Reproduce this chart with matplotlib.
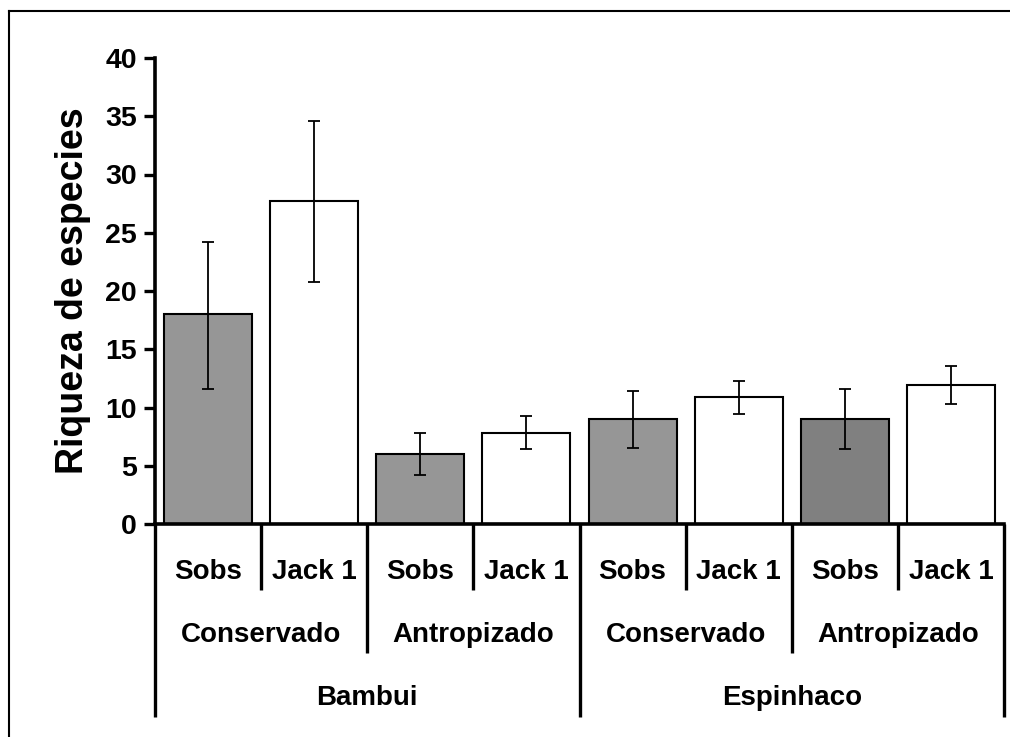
import matplotlib
matplotlib.use("Agg")
import matplotlib.pyplot as plt
from matplotlib.lines import Line2D
import numpy as np

# data
regions = ["Bambui", "Espinhaco"]
sites = ["Conservado", "Antropizado", "Conservado", "Antropizado"]
estimators = ["Sobs", "Jack 1", "Sobs", "Jack 1", "Sobs", "Jack 1", "Sobs", "Jack 1"]
riqueza = [18.0, 27.7, 6.0, 7.8, 9.0, 10.9, 9.0, 11.9]
err_low = [11.6, 20.8, 4.2, 6.4, 6.5, 9.4, 6.4, 10.3]
err_high = [24.2, 34.6, 7.8, 9.3, 11.4, 12.3, 11.6, 13.6]
bar_colors = ["#969696", "white", "#969696", "white", "#969696", "white", "#808080", "white"]
yticks = [0, 5, 10, 15, 20, 25, 30, 35, 40]

plt.rcParams["font.family"] = ["Liberation Sans", "DejaVu Sans"]
plt.rcParams["font.weight"] = "bold"

fig = plt.figure(figsize=(10.1, 7.37), dpi=100)
ax = fig.add_axes([155 / 1010, 1 - 524 / 737, (1004 - 155) / 1010, (524 - 58) / 737])

x = np.arange(len(riqueza))
vals = np.array(riqueza)
yerr = np.array([vals - np.array(err_low), np.array(err_high) - vals])
ax.bar(x, vals, width=0.83, color=bar_colors, edgecolor="black", linewidth=1.5, zorder=2)
ax.errorbar(x, vals, yerr=yerr, fmt="none", ecolor="black", elinewidth=1.3,
            capsize=4.6, capthick=1.3, zorder=3)

ax.set_xlim(-0.5, len(riqueza) - 0.5)
ax.set_ylim(0, 40)
ax.set_yticks(yticks)
ax.set_yticklabels([str(t) for t in yticks], fontsize=20.5, fontweight="bold")
ax.tick_params(axis="y", direction="out", length=8, width=2.4, pad=5)
ax.set_xticks([])
ax.set_ylabel("Riqueza de especies", fontsize=27, fontweight="bold", labelpad=10)

for side in ["top", "right"]:
    ax.spines[side].set_visible(False)
ax.spines["left"].set_linewidth(2.6)
ax.spines["bottom"].set_linewidth(2.6)

# multi-level category axis
trans = ax.get_xaxis_transform()
axh = 524 - 58
lv = [(524 - 590) / axh, (524 - 653) / axh, (524 - 717) / axh]
ty = [(524 - 572) / axh, (524 - 635) / axh, (524 - 698) / axh]

for i, lab in enumerate(estimators):
    ax.text(i, ty[0], lab, transform=trans, ha="center", va="center",
            fontsize=20, fontweight="bold")
for j, lab in enumerate(sites):
    ax.text(2 * j + 0.5, ty[1], lab, transform=trans, ha="center", va="center",
            fontsize=20, fontweight="bold")
for k, lab in enumerate(regions):
    ax.text(4 * k + 1.5, ty[2], lab, transform=trans, ha="center", va="center",
            fontsize=20, fontweight="bold")

for b in range(len(riqueza) + 1):
    if b % 4 == 0:
        depth = lv[2]
    elif b % 2 == 0:
        depth = lv[1]
    else:
        depth = lv[0]
    ax.plot([b - 0.5, b - 0.5], [0, depth], transform=trans, color="black",
            linewidth=2.4, clip_on=False, solid_capstyle="butt")

# outer frame (cut off at right and bottom in the reference)
fig.add_artist(Line2D([8.5 / 1010, 8.5 / 1010], [0, 1 - 10.5 / 737],
                      transform=fig.transFigure, color="black", linewidth=1.5))
fig.add_artist(Line2D([8.5 / 1010, 1], [1 - 10.5 / 737, 1 - 10.5 / 737],
                      transform=fig.transFigure, color="black", linewidth=1.5))

fig.savefig("out.png", dpi=100)
